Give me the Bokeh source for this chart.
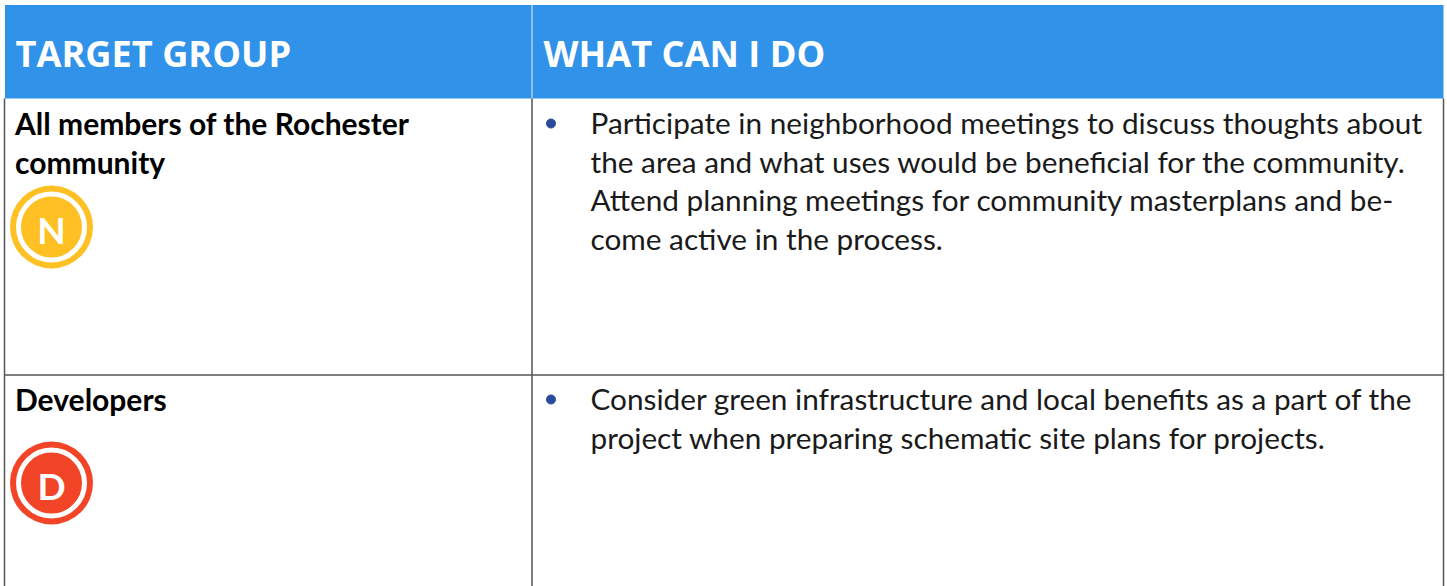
from bokeh.plotting import figure
from bokeh.embed import file_html
from bokeh.resources import INLINE
from bokeh.core.properties import value

FONT = "Lato"
headers = ["TARGET GROUP", "WHAT CAN I DO"]
left_lines = [("All members of the Rochester", 122), ("community", 161), ("Developers", 398)]
right_lines = [
    ("Participate in neighborhood meetings to discuss thoughts about", 122),
    ("the area and what uses would be beneficial for the community.", 161),
    ("Attend planning meetings for community masterplans and be-", 199),
    ("come active in the process.", 238),
    ("Consider green infrastructure and local benefits as a part of the", 398),
    ("project when preparing schematic site plans for projects.", 437),
]
bullets_y = [123, 399]
badges = [("N", 226.5, "#fec023"), ("D", 482.5, "#f24527")]

W, H = 1447, 586
p = figure(width=W, height=H, x_range=(0, W), y_range=(H, 0), output_backend="svg",
           toolbar_location=None, min_border=0, outline_line_color=None)
p.xaxis.visible = False
p.yaxis.visible = False
p.grid.visible = False
p.background_fill_color = "white"
p.border_fill_color = "white"

p.quad(left=[4.5], right=[1443], top=[4.5], bottom=[98], fill_color="#3092e8", line_color=None)
p.segment(x0=[531.5], x1=[531.5], y0=[4.5], y1=[98], line_color="#a9d0f5", line_width=1.5)
p.segment(x0=[4, 531.5, 1443], x1=[4, 531.5, 1443], y0=[98, 98, 98], y1=[586, 586, 586],
          line_color="#555555", line_width=1.5)
p.segment(x0=[4], x1=[1443], y0=[374.5], y1=[374.5], line_color="#555555", line_width=1.5)

p.text(x=[15, 543], y=[52.5, 52.5], text=headers, text_font=value("Open Sans"), text_font_style="bold",
       text_font_size="36.2px", text_color="white", text_baseline="middle")
p.text(x=[14.5] * len(left_lines), y=[l[1] for l in left_lines], text=[l[0] for l in left_lines],
       text_font=value(FONT), text_font_style="bold", text_font_size="30px", text_color="#000000",
       text_baseline="middle")
p.text(x=[590] * len(right_lines), y=[l[1] for l in right_lines], text=[l[0] for l in right_lines],
       text_font=value(FONT), text_font_size="29.75px", text_color="#1a1a1a", text_baseline="middle")
p.scatter(x=[550.5, 550.5], y=bullets_y, size=9, color="#2a4b9b")

for letter, y, color in badges:
    p.scatter(x=[51], y=[y], size=83, fill_color=color, line_color=None)
    p.scatter(x=[51], y=[y], size=66, fill_color=color, line_color="white", line_width=5)
    p.text(x=[51], y=[y + 2], text=[letter], text_font=value(FONT), text_font_style="bold",
           text_font_size="37px", text_color="white", text_align="center", text_baseline="middle")

open("out.html", "w").write(file_html(p, INLINE))
